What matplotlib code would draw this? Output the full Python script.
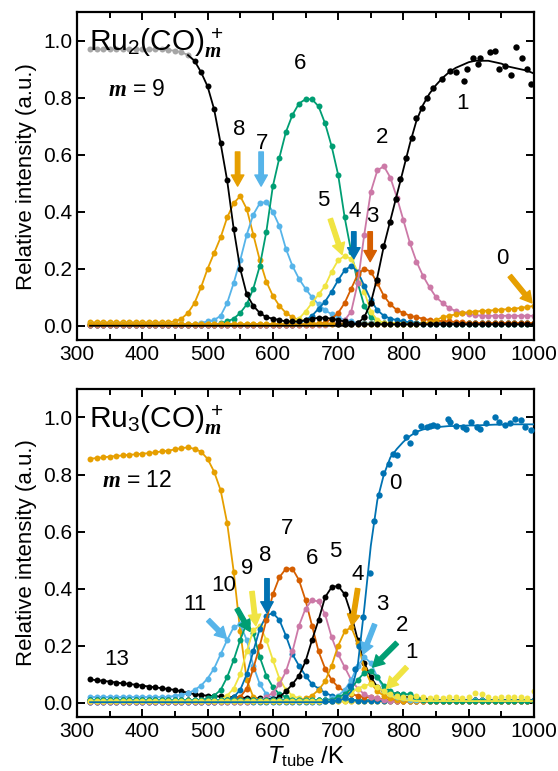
import numpy as np
import matplotlib
matplotlib.use("Agg")
import matplotlib.pyplot as plt
from matplotlib.ticker import MultipleLocator

plt.rcParams["font.family"] = ["Liberation Sans", "DejaVu Sans"]
plt.rcParams["mathtext.fontset"] = "custom"
plt.rcParams["mathtext.rm"] = "Liberation Sans"
plt.rcParams["mathtext.it"] = "Liberation Serif:italic:bold"
plt.rcParams["mathtext.sf"] = "Liberation Sans:italic"
plt.rcParams["mathtext.bf"] = "Liberation Sans:bold"

# ---------------- data, 10 K grid from 320 to 1000 K ----------------
# each series: first temperature of the listed values, values, level before, level after

# Ru2(CO)m+
ru2_m9_start = 320
ru2_m9 = [0.97, 0.97, 0.97, 0.97, 0.97, 0.97, 0.97, 0.97, 0.97, 0.97, 0.97, 0.97, 0.968,
          0.965, 0.96, 0.95, 0.93, 0.89, 0.84, 0.76, 0.64, 0.51, 0.34, 0.20, 0.11, 0.07,
          0.045, 0.03, 0.025, 0.02, 0.015, 0.015, 0.015, 0.02, 0.025, 0.028, 0.028, 0.025,
          0.02, 0.015, 0.01]
ru2_m8_start = 440
ru2_m8 = [0.012, 0.015, 0.025, 0.045, 0.08, 0.135, 0.20, 0.255, 0.31, 0.38, 0.43, 0.455,
          0.41, 0.32, 0.23, 0.155, 0.105, 0.07, 0.045, 0.03, 0.02, 0.015]
ru2_m7_start = 490
ru2_m7 = [0.01, 0.015, 0.02, 0.035, 0.08, 0.15, 0.23, 0.32, 0.39, 0.43, 0.435, 0.40, 0.35,
          0.27, 0.21, 0.165, 0.13, 0.10, 0.075, 0.055, 0.04, 0.03, 0.02, 0.015, 0.01]
ru2_m6_start = 520
ru2_m6 = [0.008, 0.015, 0.025, 0.045, 0.075, 0.13, 0.21, 0.33, 0.49, 0.59, 0.68, 0.74,
          0.78, 0.795, 0.795, 0.77, 0.71, 0.63, 0.53, 0.38, 0.26, 0.15, 0.07, 0.03, 0.015,
          0.01]
ru2_m5_start = 620
ru2_m5 = [0.01, 0.015, 0.025, 0.05, 0.08, 0.11, 0.14, 0.19, 0.23, 0.245, 0.235, 0.19,
          0.12, 0.05, 0.02, 0.01]
ru2_m4_start = 640
ru2_m4 = [0.01, 0.02, 0.035, 0.06, 0.085, 0.12, 0.16, 0.195, 0.21, 0.19, 0.14, 0.09,
          0.055, 0.035, 0.025, 0.02, 0.015, 0.012]
ru2_m3_start = 670
ru2_m3 = [0.005, 0.01, 0.025, 0.045, 0.08, 0.13, 0.18, 0.20, 0.19, 0.15, 0.105, 0.075,
          0.055, 0.045, 0.035, 0.03, 0.025, 0.02, 0.018, 0.016, 0.015, 0.013, 0.012]
ru2_m2_start = 690
ru2_m2 = [0.005, 0.01, 0.02, 0.05, 0.15, 0.32, 0.47, 0.545, 0.56, 0.52, 0.45, 0.37, 0.29,
          0.225, 0.175, 0.135, 0.10, 0.08, 0.062, 0.052, 0.045, 0.04, 0.038]
ru2_m0_start = 820
ru2_m0 = [0.005, 0.008, 0.012, 0.02, 0.03, 0.035, 0.04, 0.045, 0.048, 0.05, 0.052, 0.053,
          0.055, 0.057, 0.058, 0.06, 0.063, 0.066, 0.07]
# m = 1 (noisy points + fit)
ru2_m1_T = [700, 710, 720, 730, 740, 750, 760, 769, 779, 788, 795, 804, 813, 820, 828, 836,
            846, 859, 871, 880, 893, 898, 906, 914, 918, 932, 941, 946, 955, 964, 972, 981,
            989, 996]
ru2_m1_pts = [0.005, 0.005, 0.005, 0.008, 0.03, 0.08, 0.16, 0.28, 0.365, 0.445, 0.515,
              0.59, 0.66, 0.73, 0.765, 0.80, 0.835, 0.865, 0.895, 0.89, 0.86, 0.90, 0.94,
              0.92, 0.94, 0.96, 0.965, 0.90, 0.91, 0.88, 0.98, 0.94, 0.90, 0.85]
ru2_m1_fit_start = 720
ru2_m1_fit = [0.002, 0.008, 0.03, 0.08, 0.17, 0.28, 0.37, 0.46, 0.55, 0.64, 0.72, 0.775,
              0.815, 0.845, 0.87, 0.89, 0.905, 0.915, 0.925, 0.93, 0.93, 0.93, 0.925, 0.92,
              0.91, 0.905, 0.90, 0.895, 0.885]

# Ru3(CO)m+
ru3_m13_start = 320
ru3_m13 = [0.082, 0.079, 0.077, 0.074, 0.071, 0.068, 0.066, 0.063, 0.06, 0.057, 0.054,
           0.051, 0.048, 0.045, 0.04, 0.035, 0.03, 0.027, 0.025, 0.023, 0.022, 0.02, 0.02,
           0.018, 0.017, 0.016, 0.015, 0.014, 0.013]
ru3_m12_start = 320
ru3_m12 = [0.855, 0.858, 0.86, 0.863, 0.865, 0.867, 0.869, 0.871, 0.873, 0.875, 0.878,
           0.881, 0.884, 0.888, 0.893, 0.895, 0.89, 0.88, 0.855, 0.81, 0.745, 0.63, 0.46,
           0.25, 0.08, 0.02, 0.008]
ru3_m11_start = 450
ru3_m11 = [0.025, 0.028, 0.033, 0.045, 0.06, 0.085, 0.12, 0.17, 0.22, 0.265, 0.275, 0.22,
           0.13, 0.065, 0.03, 0.015]
ru3_m10_start = 490
ru3_m10 = [0.01, 0.015, 0.025, 0.045, 0.09, 0.15, 0.22, 0.28, 0.245, 0.16, 0.095, 0.055,
           0.03, 0.02, 0.012]
ru3_m9_start = 510
ru3_m9 = [0.005, 0.01, 0.025, 0.05, 0.10, 0.18, 0.255, 0.27, 0.22, 0.15, 0.085, 0.045,
          0.025, 0.015, 0.01]
ru3_m8_start = 520
ru3_m8 = [0.005, 0.01, 0.02, 0.045, 0.10, 0.18, 0.26, 0.305, 0.315, 0.29, 0.235, 0.17,
          0.13, 0.095, 0.065, 0.05, 0.035, 0.025, 0.02, 0.015, 0.01]
ru3_m7_start = 540
ru3_m7 = [0.01, 0.02, 0.05, 0.12, 0.20, 0.29, 0.38, 0.44, 0.47, 0.47, 0.43, 0.36, 0.27,
          0.18, 0.12, 0.08, 0.055, 0.04, 0.03, 0.025, 0.02, 0.02, 0.015, 0.012, 0.01]
ru3_m6_start = 570
ru3_m6 = [0.005, 0.01, 0.02, 0.035, 0.065, 0.11, 0.18, 0.27, 0.33, 0.36, 0.355, 0.31,
          0.23, 0.17, 0.125, 0.08, 0.05, 0.03, 0.02, 0.015, 0.01]
ru3_m5_start = 600
ru3_m5 = [0.012, 0.02, 0.04, 0.065, 0.095, 0.145, 0.22, 0.29, 0.37, 0.405, 0.41, 0.38,
          0.31, 0.22, 0.14, 0.09, 0.055, 0.04, 0.033, 0.03, 0.02, 0.02, 0.015, 0.015,
          0.012]
ru3_m4_start = 640
ru3_m4 = [0.01, 0.015, 0.025, 0.045, 0.075, 0.13, 0.20, 0.25, 0.265, 0.21, 0.12, 0.07,
          0.04, 0.025, 0.015, 0.01]
ru3_m3_start = 680
ru3_m3 = [0.01, 0.015, 0.025, 0.045, 0.08, 0.13, 0.16, 0.14, 0.09, 0.05, 0.03, 0.02,
          0.015, 0.01]
ru3_m2_start = 690
ru3_m2 = [0.01, 0.02, 0.03, 0.05, 0.08, 0.105, 0.11, 0.09, 0.06, 0.04, 0.03, 0.03, 0.03,
          0.02, 0.01]
ru3_m1_start = 700
ru3_m1 = [0.01, 0.02, 0.035, 0.05, 0.06, 0.065, 0.055, 0.04, 0.03, 0.025, 0.02, 0.02,
          0.025, 0.02, 0.015, 0.02, 0.015, 0.02, 0.02, 0.015, 0.02, 0.035, 0.03, 0.02,
          0.015, 0.02, 0.02, 0.02, 0.02, 0.015, 0.04]
ru3_m1_fit = [0.01, 0.02, 0.035, 0.05, 0.06, 0.065, 0.055, 0.04, 0.025, 0.015, 0.01, 0.008]
# m = 0 (noisy points + fit)
ru3_m0_T = [680, 690, 700, 710, 718, 726, 732, 738, 749, 755, 763, 769, 778, 784, 790,
            804, 810, 818, 827, 836, 841, 846, 851, 868, 871, 881, 892, 896, 903, 913, 918,
            927, 940, 947, 956, 963, 971, 980, 986, 995]
ru3_m0_pts = [0.005, 0.005, 0.01, 0.02, 0.06, 0.12, 0.20, 0.30, 0.455, 0.638, 0.727, 0.805,
              0.838, 0.871, 0.87, 0.932, 0.912, 0.95, 0.97, 0.965, 0.97, 0.975, 0.97,
              0.994, 0.985, 0.97, 0.965, 0.96, 0.985, 0.968, 0.96, 0.98, 1.0, 0.985, 0.975,
              0.98, 0.994, 0.99, 0.966, 0.956]
ru3_m0_fit_start = 680
ru3_m0_fit = [0.002, 0.004, 0.008, 0.015, 0.04, 0.13, 0.33, 0.55, 0.71, 0.80, 0.86, 0.89,
              0.915, 0.935, 0.95, 0.958, 0.963, 0.966, 0.968, 0.97, 0.97, 0.971, 0.972,
              0.972, 0.973, 0.974, 0.975, 0.975, 0.975, 0.976, 0.976, 0.976, 0.976]

K, GR, OR, SB, GN = "black", "#a6a6a6", "#E69F00", "#56B4E9", "#009E73"
YE, BL, VM, PK = "#F0E442", "#0072B2", "#D55E00", "#CC79A7"

GRID = np.arange(320, 1001, 10)


def pad(start, vals, lo, hi):
    y = np.where(GRID < start, lo, hi).astype(float)
    i = (start - 320) // 10
    y[i:i + len(vals)] = vals
    return y


def series(ax, y, c, fit=None, ms=4.3):
    ax.plot(GRID, y if fit is None else fit, "-", color=c, lw=1.3, zorder=2)
    ax.plot(GRID, y, "o", color=c, ms=ms, mec="none", zorder=2)


def arrow(ax, tail, tip, c):
    ax.annotate("", xy=tip, xytext=tail,
                arrowprops=dict(facecolor=c, edgecolor=c, width=3.2, headwidth=9,
                                headlength=8, shrink=0), zorder=4)


def style(ax):
    ax.set_xlim(300, 1000)
    ax.set_ylim(-0.05, 1.1)
    ax.xaxis.set_major_locator(MultipleLocator(100))
    ax.xaxis.set_minor_locator(MultipleLocator(50))
    ax.yaxis.set_major_locator(MultipleLocator(0.2))
    ax.yaxis.set_major_formatter(matplotlib.ticker.FormatStrFormatter("%.1f"))
    ax.tick_params(which="both", direction="in", top=True, right=True, width=1.4,
                   labelsize=15)
    ax.tick_params(which="major", length=6)
    ax.tick_params(which="minor", length=4)
    for s in ax.spines.values():
        s.set_linewidth(1.6)
    ax.set_ylabel("Relative intensity (a.u.)", fontsize=16, labelpad=4)


fig = plt.figure(figsize=(5.58, 7.71), dpi=100)
ax1 = fig.add_axes([0.138, 0.559, 0.819, 0.425])
ax2 = fig.add_axes([0.138, 0.070, 0.819, 0.4255])

# ---------------- upper panel ----------------
y9 = pad(ru2_m9_start, ru2_m9, 0.97, 0.005)
low = GRID <= 470
ax1.plot(GRID[GRID <= 480], y9[GRID <= 480], "-", color=GR, lw=1.3, zorder=2)
ax1.plot(GRID[low], y9[low], "o", color=GR, ms=4.3, mec="none", zorder=2)
ax1.plot(GRID[GRID >= 470], y9[GRID >= 470], "-", color=K, lw=1.3, zorder=3)
ax1.plot(GRID[~low], y9[~low], "o", color=K, ms=4.3, mec="none", zorder=3)
series(ax1, pad(ru2_m8_start, ru2_m8, 0.012, 0.008), OR)
series(ax1, pad(ru2_m7_start, ru2_m7, 0.005, 0.008), SB)
series(ax1, pad(ru2_m6_start, ru2_m6, 0.004, 0.006), GN)
series(ax1, pad(ru2_m5_start, ru2_m5, 0.005, 0.01), YE)
series(ax1, pad(ru2_m4_start, ru2_m4, 0.004, 0.01), BL)
series(ax1, pad(ru2_m3_start, ru2_m3, 0.004, 0.01), VM)
series(ax1, pad(ru2_m2_start, ru2_m2, 0.004, 0.035), PK)
series(ax1, pad(ru2_m0_start, ru2_m0, 0.006, 0.07), OR)
ax1.plot(GRID, pad(ru2_m1_fit_start, ru2_m1_fit, 0.0, 0.885), "-", color=K, lw=1.3,
         zorder=3)
ax1.plot(ru2_m1_T, ru2_m1_pts, "o", color=K, ms=4.6, mec="none", zorder=3)

ax1.text(318, 0.99, r"Ru$_2$(CO)$_m^{\,+}$", fontsize=21.5, ha="left", va="center")
ax1.text(348, 0.83, r"$m$ = 9", fontsize=16.5, ha="left", va="center")
for lab, x, y in [("8", 548, 0.69), ("7", 584, 0.64), ("6", 641, 0.92), ("2", 768, 0.66),
                  ("1", 890, 0.78), ("5", 677, 0.44), ("4", 726, 0.40), ("3", 753, 0.385),
                  ("0", 952, 0.235)]:
    ax1.text(x, y, lab, fontsize=16, ha="center", va="center")
arrow(ax1, (546, 0.61), (546, 0.49), OR)
arrow(ax1, (582, 0.61), (582, 0.49), SB)
arrow(ax1, (688, 0.375), (706, 0.25), YE)
arrow(ax1, (724, 0.33), (724, 0.235), BL)
arrow(ax1, (749, 0.33), (749, 0.225), VM)
arrow(ax1, (963, 0.175), (997, 0.08), OR)
style(ax1)

# ---------------- lower panel ----------------
series(ax2, pad(ru3_m13_start, ru3_m13, 0.08, 0.01), K)
series(ax2, pad(ru3_m12_start, ru3_m12, 0.85, 0.005), OR)
series(ax2, pad(ru3_m11_start, ru3_m11, 0.02, 0.01), SB)
series(ax2, pad(ru3_m10_start, ru3_m10, 0.008, 0.008), GN)
series(ax2, pad(ru3_m9_start, ru3_m9, 0.005, 0.006), YE)
series(ax2, pad(ru3_m8_start, ru3_m8, 0.003, 0.006), BL)
series(ax2, pad(ru3_m7_start, ru3_m7, 0.005, 0.005), VM)
series(ax2, pad(ru3_m6_start, ru3_m6, 0.003, 0.005), PK)
series(ax2, pad(ru3_m5_start, ru3_m5, 0.008, 0.01), K)
series(ax2, pad(ru3_m4_start, ru3_m4, 0.005, 0.006), OR)
series(ax2, pad(ru3_m3_start, ru3_m3, 0.01, 0.008), SB)
series(ax2, pad(ru3_m2_start, ru3_m2, 0.008, 0.005), GN)
series(ax2, pad(ru3_m1_start, ru3_m1, 0.005, 0.02), YE,
       fit=pad(ru3_m1_start, ru3_m1_fit, 0.005, 0.006))
ax2.plot(GRID, pad(ru3_m0_fit_start, ru3_m0_fit, 0.002, 0.976), "-", color=BL, lw=1.3,
         zorder=3)
ax2.plot(ru3_m0_T, ru3_m0_pts, "o", color=BL, ms=4.6, mec="none", zorder=3)
ax2.plot(GRID[GRID < 680], np.full((GRID < 680).sum(), 0.004), "o", color=BL, ms=4.3,
         mec="none", zorder=1)

ax2.text(318, 0.99, r"Ru$_3$(CO)$_m^{\,+}$", fontsize=21.5, ha="left", va="center")
ax2.text(338, 0.78, r"$m$ = 12", fontsize=16.5, ha="left", va="center")
for lab, x, y in [("13", 361, 0.15), ("11", 481, 0.345), ("10", 524, 0.41), ("9", 560, 0.47),
                  ("8", 589, 0.515), ("7", 622, 0.61), ("6", 660, 0.505), ("5", 696, 0.53),
                  ("4", 730, 0.45), ("3", 768, 0.345), ("2", 798, 0.27), ("1", 813, 0.175),
                  ("0", 787, 0.77)]:
    ax2.text(x, y, lab, fontsize=16, ha="center", va="center")
arrow(ax2, (501, 0.29), (529, 0.225), SB)
arrow(ax2, (545, 0.33), (565, 0.25), GN)
arrow(ax2, (568, 0.39), (574, 0.27), YE)
arrow(ax2, (591, 0.435), (591, 0.315), BL)
arrow(ax2, (730, 0.40), (721, 0.27), OR)
arrow(ax2, (756, 0.275), (738, 0.17), SB)
arrow(ax2, (790, 0.21), (753, 0.125), GN)
arrow(ax2, (805, 0.125), (774, 0.05), YE)
style(ax2)
ax2.set_xlabel(r"$\mathsf{T}_{\mathrm{tube}}$ /K", fontsize=17, labelpad=3)

fig.savefig("out.png", dpi=100, facecolor="white")
